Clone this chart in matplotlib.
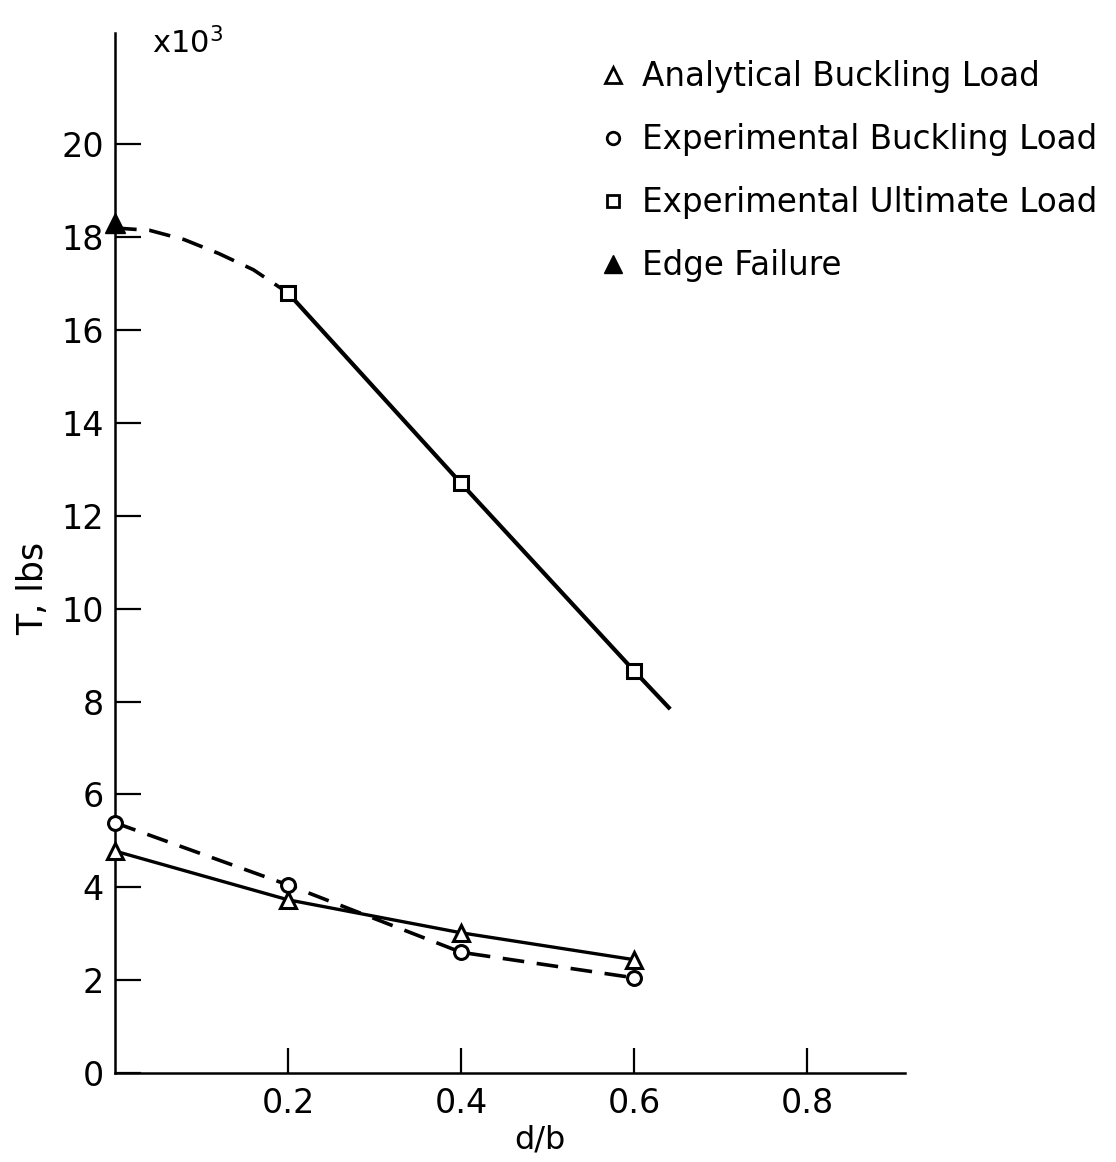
import matplotlib
matplotlib.use("Agg")
import matplotlib.pyplot as plt
from matplotlib.lines import Line2D

# ---- data (T in units of 10^3 lbs) ----
db_points = [0.0, 0.2, 0.4, 0.6]
analytical_buckling = [4.78, 3.73, 3.02, 2.44]
experimental_buckling = [5.39, 4.05, 2.60, 2.05]

ultimate_x = [0.2, 0.4, 0.6]
ultimate_load = [16.8, 12.7, 8.66]
ultimate_line_x = [0.2, 0.4, 0.6, 0.64]
ultimate_line_y = [16.8, 12.7, 8.66, 7.87]
ultimate_dash_x = [0.0, 0.04, 0.08, 0.12, 0.16, 0.2]
ultimate_dash_y = [18.2, 18.15, 17.95, 17.65, 17.3, 16.8]

edge_failure_x = [0.0]
edge_failure_y = [18.3]

x_ticks = [0.2, 0.4, 0.6, 0.8]
x_tick_labels = ["0.2", "0.4", "0.6", "0.8"]
y_ticks = [0, 2, 4, 6, 8, 10, 12, 14, 16, 18, 20]
y_tick_labels = ["0", "2", "4", "6", "8", "10", "12", "14", "16", "18", "20"]

legend_labels = ["Analytical Buckling Load", "Experimental Buckling Load",
                 "Experimental Ultimate Load", "Edge Failure"]

plt.rcParams['font.family'] = ['DejaVu Sans']

W, H = 1116, 1162
fig = plt.figure(figsize=(W / 100, H / 100), dpi=100)
ax = fig.add_axes([115 / W, 1 - 1073 / H, (905 - 115) / W, (1073 - 33) / H])

ax.set_xlim(0, 0.913)
ax.set_ylim(0, 22.4)

# lines
ax.plot(ultimate_dash_x, ultimate_dash_y, color='black', lw=2.6, ls=(0, (6, 3.5)),
        solid_capstyle='butt', zorder=2)
ax.plot(ultimate_line_x, ultimate_line_y, color='black', lw=3.0, zorder=2)
ax.plot(db_points, analytical_buckling, color='black', lw=2.4, zorder=2)
ax.plot(db_points, experimental_buckling, color='black', lw=2.6, ls=(0, (6, 3.5)), zorder=2)

# markers
ax.plot(ultimate_x, ultimate_load, ls='none', marker='s', ms=10, mfc='white',
        mec='black', mew=2.2, zorder=4)
ax.plot(db_points, analytical_buckling, ls='none', marker='^', ms=12, mfc='white',
        mec='black', mew=2.2, zorder=4, clip_on=False)
ax.plot(db_points, experimental_buckling, ls='none', marker='o', ms=10, mfc='white',
        mec='black', mew=2.2, zorder=4, clip_on=False)
ax.plot(edge_failure_x, edge_failure_y, ls='none', marker='^', ms=15, mfc='black',
        mec='black', zorder=5, clip_on=False)

# axes styling
for s in ['top', 'right']:
    ax.spines[s].set_visible(False)
for s in ['left', 'bottom']:
    ax.spines[s].set_linewidth(1.8)

ax.set_xticks(x_ticks)
ax.set_xticklabels(x_tick_labels, fontsize=24)
ax.set_yticks(y_ticks)
ax.set_yticklabels(y_tick_labels, fontsize=24)
ax.tick_params(axis='y', direction='in', length=19, width=1.6, pad=8)
ax.tick_params(axis='x', direction='in', length=18, width=1.6, pad=10)

# legend
handles = [
    Line2D([], [], ls='none', marker='^', ms=11, mfc='white', mec='black', mew=2),
    Line2D([], [], ls='none', marker='o', ms=9, mfc='white', mec='black', mew=2),
    Line2D([], [], ls='none', marker='s', ms=9, mfc='white', mec='black', mew=2),
    Line2D([], [], ls='none', marker='^', ms=13, mfc='black', mec='black'),
]
fig.legend(handles, legend_labels, loc='upper left',
           bbox_to_anchor=(598 / W, 1 - 60 / H), frameon=False, fontsize=23.5,
           handlelength=0.9, handletextpad=0.45, labelspacing=0.92, borderpad=0,
           borderaxespad=0)

# texts
fig.text(152 / W, 1 - 53 / H, r"x10$^3$", fontsize=22, ha='left', va='baseline')
fig.text(33 / W, 1 - 588 / H, "T, lbs", fontsize=25, rotation=90, ha='center', va='center')
fig.text(540 / W, 1 - 1140 / H, "d/b", fontsize=23, ha='center', va='center')

fig.savefig("out.png", dpi=100, facecolor='white')
